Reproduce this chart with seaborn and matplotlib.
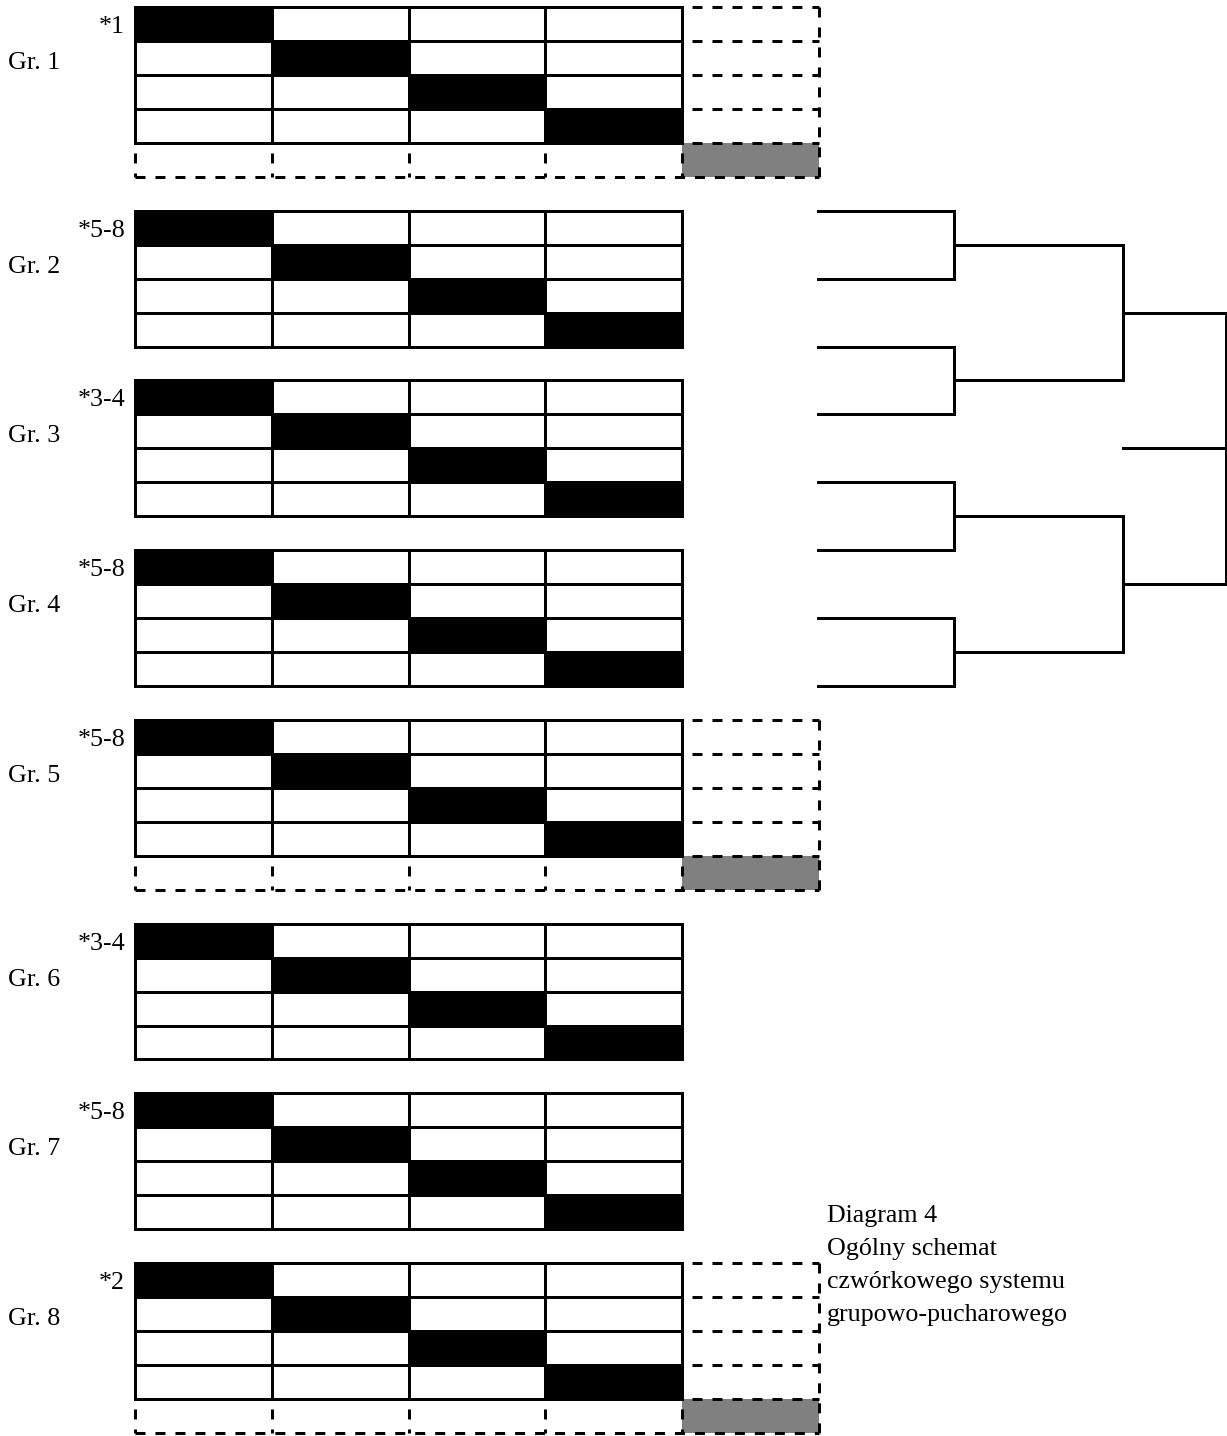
import matplotlib
matplotlib.use("Agg")
import matplotlib.pyplot as plt
import numpy as np
import pandas as pd
import seaborn as sns
from matplotlib.colors import ListedColormap

sns.set_style("white")
plt.rcParams["font.family"] = ["Liberation Serif", "DejaVu Serif"]
plt.rcParams["text.color"] = "black"

# chart content
GROUPS = ["Gr. 1", "Gr. 2", "Gr. 3", "Gr. 4", "Gr. 5", "Gr. 6", "Gr. 7", "Gr. 8"]
SEEDS = ["*1", "*5-8", "*3-4", "*5-8", "*5-8", "*3-4", "*5-8", "*2"]
HAS_EXTRA = [True, False, False, False, True, False, False, True]
# 1 = black (a team cannot play itself), 0 = empty result cell
MATCH_CELLS = [
    [1, 0, 0, 0],
    [0, 1, 0, 0],
    [0, 0, 1, 0],
    [0, 0, 0, 1],
]
CORNER_VALUE = 2  # grey corner of the extra row/column
CAPTION = ["Diagram 4", "Ogólny schemat", "czwórkowego systemu", "grupowo-pucharowego"]
BRACKET_SLOTS = 8

# layout (pixels)
W, H = 1227, 1436
LEFT = 135
CELL_W = 136.75
ROW_H = 33.95
FIRST_TOP = 7
ROUND_X = [0, 136, 305, 408]   # bracket columns, offset from x=818
LW = 2.16                      # 3 px
DASH = (3.33, 3.33)
FS = 18.7

cmap = ListedColormap(["white", "black", "#808080"])

fig = plt.figure(figsize=(W / 100, H / 100), dpi=100)
fig.patch.set_facecolor("white")


def px_axes(x, y, w, h):
    return fig.add_axes([x / W, 1 - (y + h) / H, w / W, h / H])


tops = []
top = FIRST_TOP
for name, seed, extra in zip(GROUPS, SEEDS, HAS_EXTRA):
    tops.append(top)
    n = 5 if extra else 4
    grid = np.zeros((n, n))
    grid[:4, :4] = MATCH_CELLS
    mask = np.zeros((n, n), dtype=bool)
    if extra:
        grid[4, 4] = CORNER_VALUE
        mask[4, :4] = True
        mask[:4, 4] = True
    df = pd.DataFrame(grid)

    ax = px_axes(LEFT, top, n * CELL_W, n * ROW_H)
    sns.heatmap(df, mask=mask, cmap=cmap, vmin=0, vmax=2, cbar=False,
                xticklabels=False, yticklabels=False, linewidths=0, ax=ax)
    ax.set_axis_off()

    if extra:
        ax.hlines(range(5), 4, 5, colors="black", lw=LW,
                  linestyles=[(3.33, DASH)], clip_on=False)
        ax.hlines([5], 0, 5, colors="black", lw=LW,
                  linestyles=[(0, DASH)], clip_on=False)
        ax.vlines(range(5), 4, 5, colors="black", lw=LW,
                  linestyles=[(3.33, DASH)], clip_on=False)
        ax.vlines([5], 0, 5, colors="black", lw=LW,
                  linestyles=[(0, DASH)], clip_on=False)

    ax.hlines(range(5), 0, 4, colors="black", lw=LW, clip_on=False,
              capstyle="projecting")
    ax.vlines(range(5), 0, 4, colors="black", lw=LW, clip_on=False,
              capstyle="projecting")

    fig.text(8 / W, 1 - (top + 62) / H, name, fontsize=FS, va="baseline", ha="left")
    fig.text(125 / W, 1 - (top + 26) / H, seed, fontsize=FS, va="baseline", ha="right")

    top += (n + 1) * ROW_H

# knockout bracket next to groups 2-4
bx = px_axes(818, tops[1], ROUND_X[-1], (BRACKET_SLOTS - 1) * 2 * ROW_H)
bx.set_xlim(ROUND_X[0], ROUND_X[-1])
bx.set_ylim(BRACKET_SLOTS - 1, 0)
bx.set_axis_off()

line_kw = dict(color="black", lw=LW, solid_capstyle="projecting", clip_on=False)
slots = list(range(BRACKET_SLOTS))
for r in range(len(ROUND_X) - 1):
    x0, x1 = ROUND_X[r], ROUND_X[r + 1]
    for y in slots:
        bx.plot([x0, x1], [y, y], **line_kw)
    for a, b in zip(slots[0::2], slots[1::2]):
        bx.plot([x1, x1], [a, b], **line_kw)
    slots = [(a + b) / 2 for a, b in zip(slots[0::2], slots[1::2])]
# winner stub
bx.plot([ROUND_X[-2], ROUND_X[-1]], [slots[0], slots[0]], **line_kw)

for i, line in enumerate(CAPTION):
    fig.text(827 / W, 1 - (1222 + 33 * i) / H, line, fontsize=FS,
             va="baseline", ha="left")

fig.savefig("out.png", dpi=100, facecolor="white")
